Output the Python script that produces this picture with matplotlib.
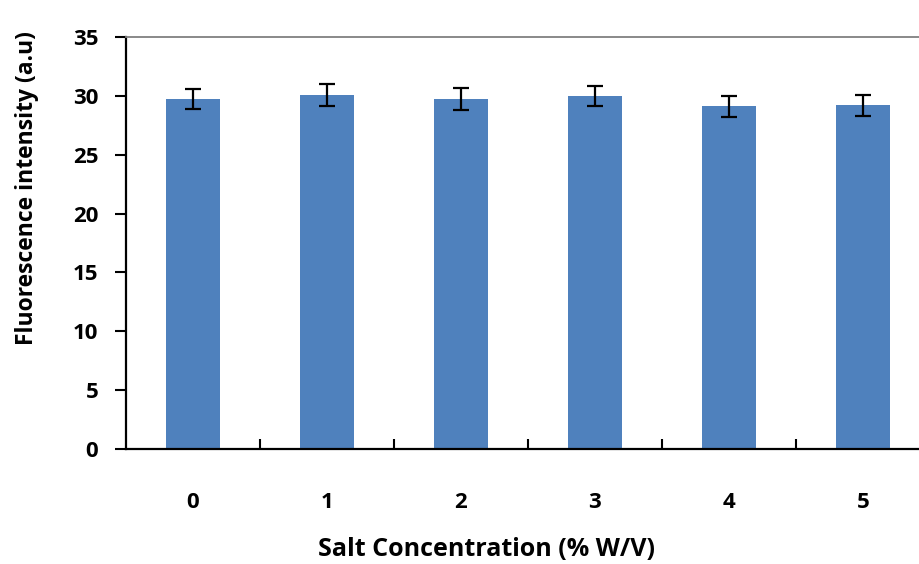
import matplotlib
matplotlib.use("Agg")
import matplotlib.pyplot as plt
import numpy as np

categories = ["0", "1", "2", "3", "4", "5"]
values = [29.74, 30.08, 29.74, 30.0, 29.1, 29.2]
errors = [0.88, 0.92, 0.9, 0.86, 0.93, 0.9]
yticks = [0, 5, 10, 15, 20, 25, 30, 35]

plt.rcParams['font.family'] = ['Open Sans', 'DejaVu Sans']
plt.rcParams['font.weight'] = 'bold'

fig = plt.figure(figsize=(9.2, 5.64), dpi=100)
ax = fig.add_axes([126/920, 115/564, 804/920, 412/564])

x = np.arange(len(categories))
ax.bar(x, values, width=0.40, color="#4F81BD", zorder=2)
ax.errorbar(x, values, yerr=errors, fmt='none', ecolor='black', elinewidth=1.6,
            capsize=6, capthick=1.6, zorder=3)

ax.set_xlim(-0.5, len(categories) - 0.5)
ax.set_ylim(0, 35)
ax.set_yticks(yticks)
ax.set_yticklabels([str(t) for t in yticks], fontsize=16, fontweight='bold')

ax.set_xticks(np.arange(len(categories) - 1) + 0.5)
ax.set_xticklabels([])
ax.set_xticks(x, minor=True)
ax.set_xticklabels(categories, minor=True, fontsize=16, fontweight='bold')
ax.tick_params(axis='x', which='major', direction='in', length=7, width=1.5)
ax.tick_params(axis='x', which='minor', length=0, pad=31)
ax.tick_params(axis='y', direction='out', length=8, width=1.5, pad=12)

ax.spines['right'].set_visible(False)
ax.spines['top'].set_color('#808080')
ax.spines['top'].set_linewidth(1.3)
ax.spines['left'].set_linewidth(1.6)
ax.spines['bottom'].set_linewidth(1.6)

fig.text(487/920, 1 - 549/564, "Salt Concentration (% W/V)", fontsize=18,
         fontweight='bold', ha='center', va='center')
fig.text(27/920, 1 - 188/564, "Fluorescence intensity (a.u)", fontsize=16.5,
         fontweight='bold', ha='center', va='center', rotation=90)

fig.savefig("out.png", dpi=100)
